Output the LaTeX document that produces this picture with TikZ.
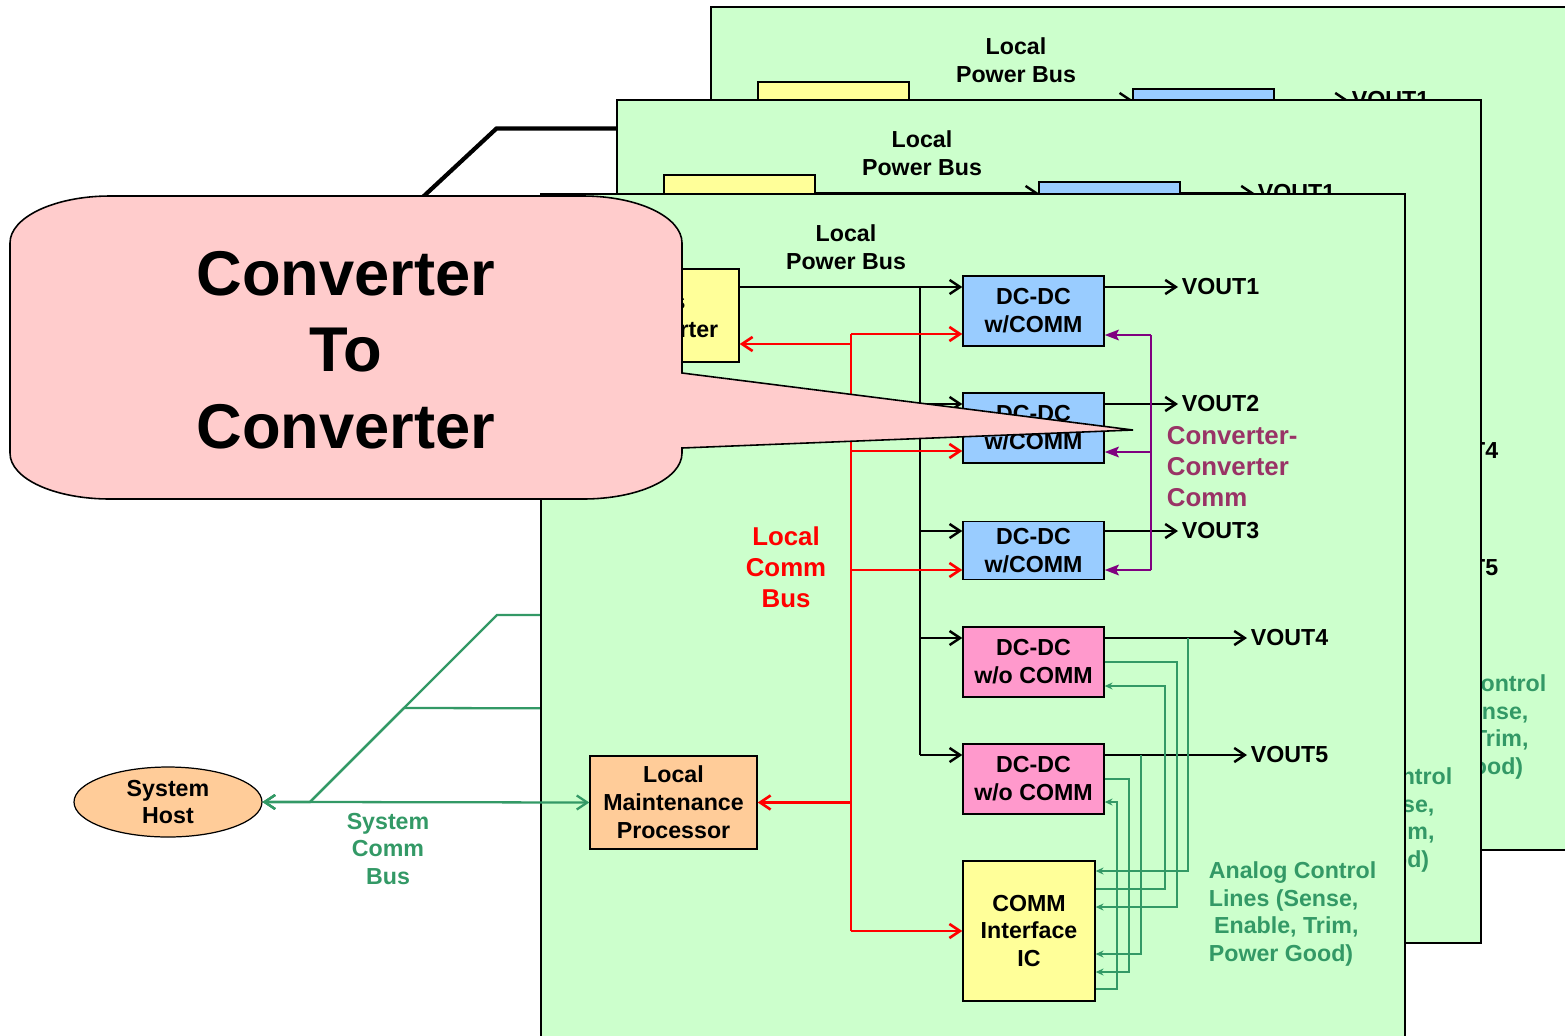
\documentclass[tikz,border=0pt]{standalone}
\usepackage{fontspec}
\setmainfont{Liberation Sans}
\usetikzlibrary{arrows.meta,positioning,shapes.geometric}

\definecolor{boardgreen}{HTML}{CCFFCC}
\definecolor{convyellow}{HTML}{FFFF99}
\definecolor{commblue}{HTML}{99CCFF}
\definecolor{nocommpink}{HTML}{FF99CC}
\definecolor{lmporange}{HTML}{FFCC99}
\definecolor{calloutpink}{HTML}{FFCCCC}
\definecolor{ccpurple}{HTML}{800080}
\definecolor{cctext}{HTML}{993366}
\definecolor{sysgreen}{HTML}{339966}

\newcommand{\lblfont}{\fontsize{13.2}{15.9}\selectfont\bfseries}
\newcommand{\bigfont}{\fontsize{14.7}{17.6}\selectfont\bfseries}

\begin{document}
\begin{tikzpicture}[
    x=0.02cm, y=-0.02cm,
    >={Straight Barb[length=6pt,width=8pt]},
    board/.style={fill=boardgreen, draw=black, line width=1.2pt},
    box/.style={draw, line width=0.8pt, inner sep=0pt, align=center, font=\lblfont},
    conv/.style={box, fill=convyellow, minimum width=3.02cm, minimum height=1.86cm},
    dcc/.style={box, fill=commblue, minimum width=2.82cm, minimum height=1.4cm},
    dcn/.style={box, fill=nocommpink, minimum width=2.82cm, minimum height=1.4cm},
    icbox/.style={box, fill=convyellow, minimum width=2.64cm, minimum height=2.8cm},
    lmpbox/.style={box, fill=lmporange, minimum width=3.34cm, minimum height=1.86cm},
    lbl/.style={align=center, font=\lblfont, inner sep=2pt},
    vout/.style={lbl, anchor=west},
    pbus/.style={line width=1.4pt},
    lbus/.style={line width=1.5pt, red},
    cbus/.style={line width=1.4pt, ccpurple},
    ctip/.style={cbus, -{Stealth[length=8pt,width=6pt,inset=1.5pt]}},
    aline/.style={line width=0.7pt, sysgreen, -{Stealth[length=4.5pt,width=4pt]}},
    sysbus/.style={line width=1.3pt, sysgreen},
    pwr/.style={line width=2.4pt}
]
\path[use as bounding box, clip] (0,0) rectangle (1565,1035);

% System host
\node[ellipse, draw, line width=0.7pt, fill=lmporange, minimum width=3.76cm, minimum height=1.4cm, inner sep=0pt, align=center, font=\lblfont] (host) at (168,802) {System\\Host};
\node[lbl, text=sysgreen] (sysbuslbl) at (388,849) {System\\Comm\\Bus};

% Boards, back to front
\foreach \dx/\dy/\pre in {170/-187/p3-, 76/-94/p2-, 0/0/p1-}{
  \begin{scope}[shift={(\dx,\dy)}, name prefix=\pre]
    \draw[board] (541,194) rectangle (1405,1037);

    % blocks
    \node[lbl] (pbuslbl) at (846,247) {Local\\Power Bus};
    \node[conv] (conv) at (663.5,315.5) {Bus\\Converter};
    \node[dcc] (b1) at (1033.5,311) {DC-DC\\w/COMM};
    \node[dcc] (b2) at (1033.5,428) {DC-DC\\w/COMM};
    \node[dcc, minimum height=1.16cm] (b3) at (1033.5,550.5) {DC-DC\\w/COMM};
    \node[dcn] (b4) at (1033.5,662) {DC-DC\\w/o COMM};
    \node[dcn] (b5) at (1033.5,779) {DC-DC\\w/o COMM};
    \node[icbox] (ic) at (1029,931) {COMM\\Interface\\IC};
    \node[lmpbox] (lmp) at (673.5,802.5) {Local\\Maintenance\\Processor};

    % outputs and labels
    \node[vout] (v1) at (1178,287) {VOUT1};
    \node[vout] (v2) at (1178,404) {VOUT2};
    \node[vout] (v3) at (1178,531) {VOUT3};
    \node[vout] (v4) at (1247,638) {VOUT4};
    \node[vout] (v5) at (1247,755) {VOUT5};
    \node[lbl, font=\bigfont, text=red] (lbuslbl) at (786,567) {Local\\Comm\\Bus};
    \node[lbl, font=\bigfont, text=cctext, anchor=west, align=left] (cclbl) at (1163,467) {Converter-\\Converter\\Comm};
    \node[lbl, text=sysgreen, anchor=west, align=left] (analbl) at (1205,914) {Analog Control\\Lines (Sense,\\\hspace*{3pt}Enable, Trim,\\Power Good)};

    % local power bus
    \draw[pbus,->] (conv.east |- v1.west) -- (b1.west |- v1.west);
    \draw[pbus] (920,287) -- (920,755);
    \draw[pbus,->] (920,404) -- (b2.west |- 0,404);
    \draw[pbus,->] (920,531) -- (b3.west |- 0,531);
    \draw[pbus,->] (920,638) -- (b4.west |- 0,638);
    \draw[pbus,->] (920,755) -- (b5.west |- 0,755);
    \draw[pbus,->] (b1.east |- v1.west) -- (v1.west);
    \draw[pbus,->] (b2.east |- v2.west) -- (v2.west);
    \draw[pbus,->] (b3.east |- v3.west) -- (v3.west);
    \draw[pbus,->] (b4.east |- v4.west) -- (v4.west);
    \draw[pbus,->] (b5.east |- v5.west) -- (v5.west);

    % local comm bus
    \draw[lbus] (851,334) -- (851,931);
    \draw[lbus,->] (851,334) -- (b1.west |- 0,334);
    \draw[lbus,->] (851,344) -- (conv.east |- 0,344);
    \draw[lbus,->] (851,451) -- (b2.west |- 0,451);
    \draw[lbus,->] (851,570) -- (b3.west |- 0,570);
    \draw[lbus,->] (851,802.5) -- (lmp.east);
    \draw[lbus,->] (851,931) -- (ic.west);

    % converter-converter comm
    \draw[cbus] (1151,335) -- (1151,570);
    \draw[ctip] (1151,335) -- (b1.east |- 0,335);
    \draw[ctip] (1151,452) -- (b2.east |- 0,452);
    \draw[ctip] (1151,570) -- (b3.east |- 0,570);

    % analog control lines
    \draw[aline] (1188,638) |- (ic.east |- 0,871);
    \draw[aline] (b4.east) -| (1177,907) -- (ic.east |- 0,907);
    \draw[aline] (ic.east |- 0,889) -| (1165,686) -- (b4.east |- 0,686);
    \draw[aline] (1141,755) |- (ic.east |- 0,954);
    \draw[aline] (b5.east) -| (1129,972) -- (ic.east |- 0,972);
    \draw[aline] (ic.east |- 0,989) -| (1117,802) -- (b5.east |- 0,802);
  \end{scope}

  % feeds into this board
  \draw[pwr] (295.5,315.5) -- ({295.5-(\dy)*72/67},{315.5+(\dy)}) -- (\pre conv.west);
  \draw[sysbus,<->] (host.east) -- (310,802) -- ({310-(\dy)},{802+(\dy)}) -- (\pre lmp.west);
}

% Callout
\draw[fill=calloutpink, line width=0.9pt] (110,196) -- (583,196)
  .. controls (638,196) and (682,217) .. (682,243) -- (682,373) -- (1133,430) -- (682,448) -- (682,453)
  .. controls (682,479) and (638,499) .. (583,499) -- (110,499)
  .. controls (55,499) and (10,479) .. (10,453) -- (10,243)
  .. controls (10,217) and (55,196) .. (110,196) -- cycle;
\node[font=\fontsize{36}{43.6}\selectfont\bfseries, align=center] (calltxt) at (346,350) {Converter\\To\\Converter};

\end{tikzpicture}
\end{document}
